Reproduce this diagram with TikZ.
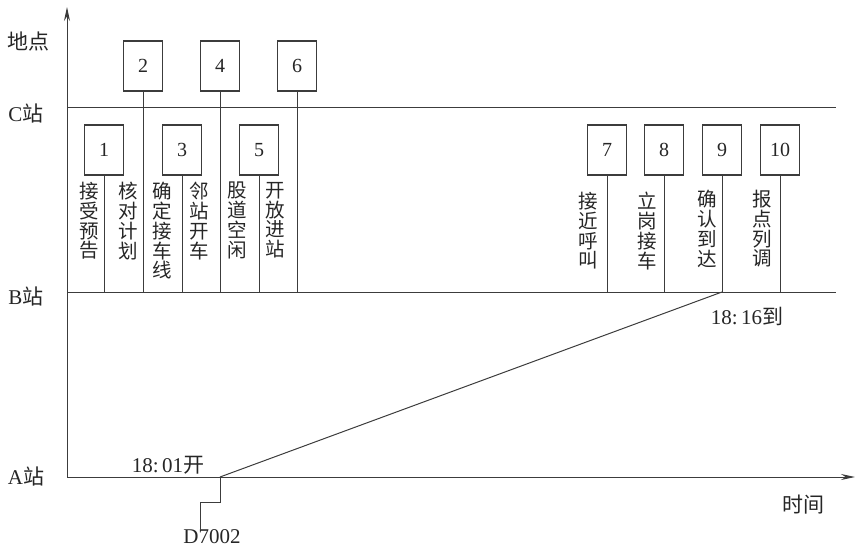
\documentclass[tikz,border=0pt]{standalone}
\usepackage{fontspec}
\setmainfont{Liberation Serif}
\newfontfamily\cjk{Noto Sans CJK SC}
\usetikzlibrary{arrows.meta}
\definecolor{ink}{HTML}{262626}
\definecolor{linec}{HTML}{3C3C3C}
\newcommand\myvtfont{\cjk\fontsize{19.5}{19.8}\selectfont\lineskiplimit=-30pt\relax\lineskip=0pt\relax}
\tikzset{
  numbox/.style={draw=linec, line width=1.1pt, minimum width=39pt, minimum height=50pt, inner sep=0pt, font=\fontsize{20}{20}\selectfont, text=ink},
  vtext/.style={anchor=north, inner sep=0pt, align=center, font=\myvtfont, text=ink},
  lbl/.style={inner sep=0pt, font=\fontsize{21}{21}\selectfont, text=ink},
  ln/.style={draw=linec, line width=1pt},
  ax/.style={draw=linec, line width=1pt, -{Stealth[length=14pt,width=6pt]}}
}
\begin{document}
\begin{tikzpicture}[x=1pt,y=-1pt]
\useasboundingbox (0,0) rectangle (855,551);
% axes and station lines
\coordinate (O) at (67,477);
\coordinate (Ytop) at (67,7);
\coordinate (Xend) at (855,477);
\coordinate (Cl) at (67,108);
\coordinate (Cr) at (836,108);
\coordinate (Bl) at (67,292);
\coordinate (Br) at (836,292);
\draw[ax] (O) -- (Ytop);
\draw[ax] (O) -- (Xend);
\draw[ln] (Cl) -- (Cr);
\draw[ln] (Bl) -- (Br);
% axis labels
\node[lbl] (ylab) at (29,42) {\cjk 地点};
\node[lbl] (lc) at (26,113) {C\cjk 站};
\node[lbl] (lb) at (26,296) {B\cjk 站};
\node[lbl] (la) at (26,476) {A\cjk 站};
\node[lbl] (xlab) at (803,505) {\cjk 时间};
% boxes
\node[numbox] (b1) at (104,150) {1};
\node[numbox] (b2) at (143,66) {2};
\node[numbox] (b3) at (182,150) {3};
\node[numbox] (b4) at (220,66) {4};
\node[numbox] (b5) at (259,150) {5};
\node[numbox] (b6) at (297,66) {6};
\node[numbox] (b7) at (607,150) {7};
\node[numbox] (b8) at (664,150) {8};
\node[numbox] (b9) at (722,150) {9};
\node[numbox] (b10) at (780,150) {10};
\foreach \b in {b1,b2,b3,b4,b5,b6,b7,b8,b9,b10}
  \draw[ln] (\b.south) -- (\b.south |- Bl);
% vertical texts
\node[vtext] (t1) at (89,182) {接\\受\\预\\告};
\node[vtext] (t2) at (128,182) {核\\对\\计\\划};
\node[vtext] (t3) at (162,182) {确\\定\\接\\车\\线};
\node[vtext] (t4) at (199,182) {邻\\站\\开\\车};
\node[vtext] (t5) at (237,182) {股\\道\\空\\闲};
\node[vtext] (t6) at (275,182) {开\\放\\进\\站};
\node[vtext] (t7) at (588,192) {接\\近\\呼\\叫};
\node[vtext] (t8) at (647,192) {立\\岗\\接\\车};
\node[vtext] (t9) at (707,190) {确\\认\\到\\达};
\node[vtext] (t10) at (762,190) {报\\点\\列\\调};
% train path
\coordinate (dep) at (220,477);
\coordinate (arr) at (722,292);
\draw[ln] (dep) -- (arr);
\node[lbl] (tdep) at (168,465) {18:\,01{\cjk 开}};
\node[lbl] (tarr) at (747,316) {18:\,16{\cjk 到}};
% train number flag
\node[lbl] (train) at (212,537) {D7002};
\coordinate (k1) at (220,502);
\coordinate (k2) at (200,502);
\draw[ln] (dep) -- (k1) -- (k2) -- (k2 |- train.north);
\end{tikzpicture}
\end{document}
